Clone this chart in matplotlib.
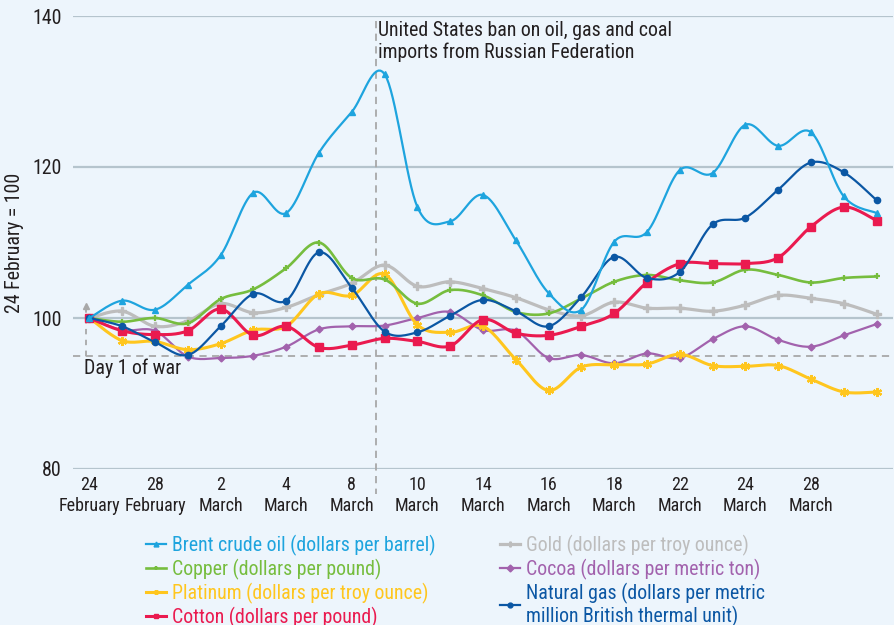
import numpy as np
import matplotlib

matplotlib.use("Agg")
import matplotlib.pyplot as plt
import matplotlib.transforms as mtransforms
from matplotlib import font_manager as fm

# a condensed sans, closest to the original typeface
_have = {f.name for f in fm.fontManager.ttflist}
FONT = next((f for f in ["Roboto Condensed", "Liberation Sans Narrow", "Archivo Narrow",
                         "Fira Sans Condensed", "IBM Plex Sans Condensed", "PT Sans Narrow"]
             if f in _have), "Liberation Sans")
plt.rcParams["font.family"] = [FONT, "DejaVu Sans"]
FS = 14.3       # annotations, legend, y axis
FS_X = 13       # date labels

# trading days 24 Feb .. 30 Mar 2022, index 24 February = 100
tick_labels = [
    "24\nFebruary", "28\nFebruary", "2\nMarch", "4\nMarch", "8\nMarch", "10\nMarch",
    "14\nMarch", "16\nMarch", "18\nMarch", "22\nMarch", "24\nMarch", "28\nMarch",
]

brent = [100, 102.3, 101.1, 104.4, 108.3, 116.6, 113.9, 121.9, 127.3, 132.3, 114.7, 112.8,
         116.3, 110.3, 103.3, 101.1, 110.1, 111.4, 119.6, 119.2, 125.6, 122.8, 124.6, 116.1, 113.9]
copper = [100, 99.5, 100.0, 99.3, 102.5, 103.8, 106.6, 110.0, 105.3, 105.1, 101.9, 103.7,
          103.0, 100.8, 100.6, 102.6, 104.8, 105.7, 105.0, 104.7, 106.4, 105.7, 104.7, 105.3, 105.5]
platinum = [100, 97.0, 96.9, 95.8, 96.6, 98.4, 98.9, 103.2, 103.0, 105.8, 99.1, 98.1,
            98.9, 94.5, 90.4, 93.5, 93.8, 93.9, 95.2, 93.7, 93.6, 93.7, 91.9, 90.2, 90.2]
cotton = [100, 98.3, 97.8, 98.3, 101.2, 97.7, 98.9, 96.1, 96.4, 97.3, 96.9, 96.3,
          99.8, 98.0, 97.7, 98.9, 100.6, 104.7, 107.2, 107.2, 107.2, 108.0, 112.1, 114.7, 112.9]
gold = [100, 100.9, 98.9, 99.6, 101.9, 100.7, 101.4, 103.1, 104.6, 107.0, 104.2, 104.8,
        103.9, 102.7, 101.1, 100.3, 102.1, 101.3, 101.3, 100.9, 101.7, 103.0, 102.6, 101.9, 100.5]
cocoa = [100, 98.4, 98.3, 94.9, 94.7, 95.0, 96.2, 98.5, 98.9, 99.0, 100.0, 100.8,
         98.4, 98.3, 94.7, 95.1, 94.0, 95.3, 94.7, 97.2, 98.9, 97.1, 96.2, 97.7, 99.2]
natgas = [100, 98.9, 96.8, 95.1, 98.9, 103.2, 102.3, 108.7, 104.0, 98.2, 98.1, 100.3,
          102.4, 100.9, 98.9, 102.8, 108.1, 105.3, 106.1, 112.4, 113.3, 117.0, 120.6, 119.3, 115.6]

# draw order: back to front
series = [
    ("Gold (dollars per troy ounce)", gold, "#bdbdbd", "P", 5.5, 2.3),
    ("Cocoa (dollars per metric ton)", cocoa, "#a262ad", "D", 3.5, 1.6),
    ("Platinum (dollars per troy ounce)", platinum, "#ffc61e", (6, 2, 0), 6.5, 2.2),
    ("Copper (dollars per pound)", copper, "#76bd3e", "+", 5, 1.9),
    ("Cotton (dollars per pound)", cotton, "#ea1a4f", "s", 6, 2.2),
    ("Natural gas (dollars per metric\nmillion British thermal unit)", natgas, "#0b57a4", "o", 4.5, 1.6),
    ("Brent crude oil (dollars per barrel)", brent, "#1ea4de", "^", 4.5, 1.6),
]
legend_order = [6, 3, 2, 4, 0, 1, 5]

STEPS = 16


def smooth(values):
    """Catmull-Rom curve through the points, as Bezier segments."""
    y = np.asarray(values, float)
    x = np.arange(len(y), dtype=float)
    px = np.concatenate([[x[0]], x, [x[-1]]])
    py = np.concatenate([[y[0]], y, [y[-1]]])
    t = np.linspace(0, 1, STEPS, endpoint=False)
    xs, ys = [], []
    for i in range(len(y) - 1):
        a, b, c, d = i, i + 1, i + 2, i + 3
        for p, out in ((px, xs), (py, ys)):
            p0, p3 = p[b], p[c]
            p1 = p0 + (p[c] - p[a]) / 6
            p2 = p3 - (p[d] - p[b]) / 6
            out.append((1 - t) ** 3 * p0 + 3 * (1 - t) ** 2 * t * p1
                       + 3 * (1 - t) * t ** 2 * p2 + t ** 3 * p3)
    xs.append([x[-1]])
    ys.append([y[-1]])
    return np.concatenate(xs), np.concatenate(ys)


fig = plt.figure(figsize=(8.94, 6.25), dpi=100, facecolor="#edf5fc")
ax = fig.add_axes([73 / 894, 1 - 469 / 625, 820 / 894, 453 / 625])
ax.set_facecolor("#edf5fc")

lines = {}
for i, (label, vals, color, marker, ms, lw) in enumerate(series):
    xs, ys = smooth(vals)
    (ln,) = ax.plot(xs, ys, color=color, lw=lw, marker=marker, markevery=STEPS,
                    ms=ms, mew=1.6 if marker in ("+", (6, 2, 0)) else 1,
                    mec=color, mfc=color, label=label, zorder=3 + i)
    lines[i] = ln

ax.set_xlim(-0.5, 24.5)
ax.set_ylim(80, 140)
ax.set_yticks([80, 100, 120, 140])
ax.set_xticks(range(0, 24, 2))
ax.set_xticklabels(tick_labels)
ax.grid(axis="y", color="#b5c4cd", lw=1.6)
ax.set_axisbelow(True)
for s in ax.spines.values():
    s.set_visible(False)
ax.tick_params(length=0, colors="#231f20")
ax.tick_params(axis="y", pad=8, labelsize=FS)
ax.tick_params(axis="x", pad=5, labelsize=FS_X)
for t in ax.get_xticklabels():
    t.set_linespacing(1.2)
ax.set_ylabel("24 February = 100", fontsize=FS, color="#231f20", labelpad=6)

# day 1 of war marker
ax.axhline(95, color="#a8a8a8", lw=1.3, ls=(0, (4, 3)), zorder=2)
ax.plot([-0.1, -0.1], [95, 101.2], color="#a8a8a8", lw=1.3, ls=(0, (3, 3)), zorder=2)
ax.plot([-0.1], [101.6], marker="^", ms=5, color="#a8a8a8", zorder=2)
ax.text(-0.15, 93.4, "Day 1 of war", fontsize=FS, color="#231f20", va="center", ha="left")

# US ban on Russian energy imports
trans = mtransforms.blended_transform_factory(ax.transData, ax.transAxes)
ax.plot([8.75, 8.75], [0.99, -0.055], transform=trans, color="#a8a8a8", lw=1.3,
        ls=(0, (4, 3)), clip_on=False, zorder=2)
ax.text(8.8, 139.3, "United States ban on oil, gas and coal\nimports from Russian Federation",
        fontsize=FS, color="#231f20", va="top", ha="left", linespacing=1.12)

handles = [lines[i] for i in legend_order]
leg = fig.legend(handles, [h.get_label() for h in handles], loc="upper left",
                 bbox_to_anchor=(146 / 894, 1 - 535 / 625), ncol=2, frameon=False,
                 fontsize=FS, labelcolor="linecolor", handlelength=1.0,
                 handletextpad=0.3, labelspacing=0.14, columnspacing=3.25,
                 borderpad=0, borderaxespad=0)
for ln in leg.get_lines():
    ln.set_markersize(3.5)
for t in leg.get_texts():
    t.set_linespacing(1.1)

fig.savefig("out.png", dpi=100, facecolor=fig.get_facecolor())
